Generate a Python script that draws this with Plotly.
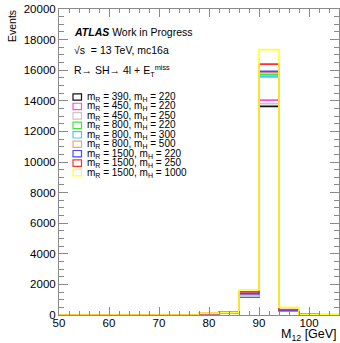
import plotly.graph_objects as go

# Histogram binning (GeV) and per-sample bin contents
bin_edges = [50, 54, 58, 62, 66, 70, 74, 78, 82, 86, 90, 94, 98, 102, 106]

mR390_mH220 = [0, 0, 0, 0, 0, 0, 0, 60, 150, 1180, 13630, 260, 40, 10]
mR450_mH220 = [0, 0, 0, 0, 0, 0, 0, 70, 200, 1490, 14050, 320, 50, 10]
mR450_mH250 = [0, 0, 0, 0, 0, 0, 0, 60, 160, 1220, 13820, 270, 40, 10]
mR800_mH220 = [0, 0, 0, 0, 0, 0, 0, 80, 180, 1380, 15700, 290, 50, 15]
mR800_mH300 = [0, 0, 0, 0, 0, 0, 0, 80, 170, 1330, 15570, 280, 50, 15]
mR800_mH500 = [0, 0, 0, 0, 0, 0, 0, 100, 190, 1400, 15830, 300, 70, 20]
mR1500_mH220 = [0, 0, 0, 0, 0, 0, 0, 80, 190, 1400, 15920, 300, 50, 15]
mR1500_mH250 = [0, 0, 0, 0, 0, 0, 0, 90, 210, 1520, 16400, 360, 60, 15]
mR1500_mH1000 = [0, 0, 0, 0, 0, 0, 0, 110, 170, 1640, 17350, 500, 40, 10]

sample_labels = [
    "m<sub>R</sub> = 390, m<sub>H</sub> = 220",
    "m<sub>R</sub> = 450, m<sub>H</sub> = 220",
    "m<sub>R</sub> = 450, m<sub>H</sub> = 250",
    "m<sub>R</sub> = 800, m<sub>H</sub> = 220",
    "m<sub>R</sub> = 800, m<sub>H</sub> = 300",
    "m<sub>R</sub> = 800, m<sub>H</sub> = 500",
    "m<sub>R</sub> = 1500, m<sub>H</sub> = 220",
    "m<sub>R</sub> = 1500, m<sub>H</sub> = 250",
    "m<sub>R</sub> = 1500, m<sub>H</sub> = 1000",
]
sample_colors = ["#111111", "#ff4fd8", "#c8c8c8", "#3ee83e", "#4cc8ff",
                 "#f7a56a", "#4848ff", "#ff3030", "#ffff30"]
samples = [mR390_mH220, mR450_mH220, mR450_mH250, mR800_mH220, mR800_mH300,
           mR800_mH500, mR1500_mH220, mR1500_mH250, mR1500_mH1000]

FONT = "Liberation Sans"
AXIS_GREY = "#8a8a8a"

# plot-area pixel frame, used to place the text block and legend
L, R, T, B = 59, 339, 9, 315


def fx(px):
    return (px - L) / (R - L)


def fy(py):
    return (B - py) / (B - T)


fig = go.Figure()
for label, color, counts in zip(sample_labels, sample_colors, samples):
    fig.add_trace(go.Scatter(
        x=bin_edges, y=counts + [counts[-1]], mode="lines",
        line=dict(color=color, width=1.7, shape="hv"),
        name=label, hoverinfo="skip"))

annotations = [
    dict(text="<b><i>ATLAS</i></b> Work in Progress", x=fx(72), y=fy(32)),
    dict(text="√s  = 13 TeV, mc16a", x=fx(72), y=fy(50)),
    dict(text="R→ SH→ 4l + E<sub>T</sub><sup>miss</sup>", x=fx(72), y=fy(71)),
]
for a in annotations:
    a.update(xref="paper", yref="paper", xanchor="left", yanchor="middle",
             showarrow=False, font=dict(family=FONT, size=10.5, color="black"))

shapes = []
row0, drow = 97, 9.45
for i, (label, color) in enumerate(zip(sample_labels, sample_colors)):
    yc = row0 + i * drow
    shapes.append(dict(type="rect", xref="paper", yref="paper",
                       x0=fx(73), x1=fx(81.5), y0=fy(yc + 3.2), y1=fy(yc - 3.2),
                       line=dict(color=color, width=1.2), fillcolor="rgba(0,0,0,0)"))
    annotations.append(dict(text=label, xref="paper", yref="paper",
                            x=fx(84.5), y=fy(yc), xanchor="left", yanchor="middle",
                            showarrow=False,
                            font=dict(family=FONT, size=10, color="black")))

annotations.append(dict(text="Events", xref="paper", yref="paper",
                        x=fx(12), y=fy(8), xanchor="center", yanchor="top",
                        textangle=-90, showarrow=False,
                        font=dict(family=FONT, size=10.5, color="black")))
annotations.append(dict(text="M<sub>12</sub> [GeV]", xref="paper", yref="paper",
                        x=fx(339), y=fy(335), xanchor="right", yanchor="middle",
                        showarrow=False,
                        font=dict(family=FONT, size=12.5, color="black")))

axis_common = dict(showline=True, linecolor=AXIS_GREY, linewidth=1, mirror="ticks",
                   ticks="inside", tickcolor=AXIS_GREY, tickwidth=1,
                   showgrid=False, zeroline=False,
                   tickfont=dict(family=FONT, size=11.5, color="black"))

fig.update_layout(
    width=340, height=343,
    margin=dict(l=L, r=340 - R, t=T, b=343 - B),
    plot_bgcolor="white", paper_bgcolor="white",
    showlegend=False,
    annotations=annotations, shapes=shapes,
    xaxis=dict(range=[50, 106], tick0=50, dtick=10, ticklen=8, ticklabelstandoff=-3,
               minor=dict(dtick=2, ticklen=4, ticks="inside", tickcolor=AXIS_GREY),
               **axis_common),
    yaxis=dict(range=[0, 20000], tick0=0, dtick=2000, ticklen=9, tickformat="d",
               minor=dict(dtick=500, ticklen=5, ticks="inside", tickcolor=AXIS_GREY),
               **axis_common),
)

fig.write_html("out.html")
